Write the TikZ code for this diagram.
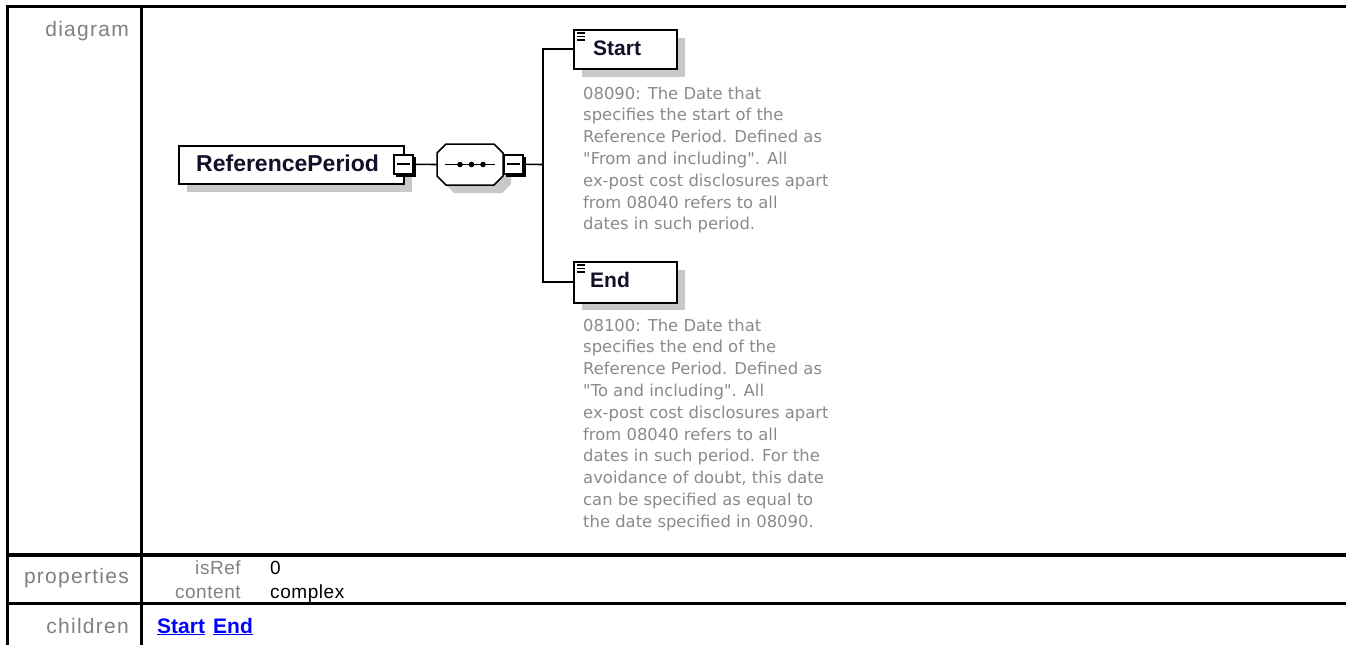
\documentclass[tikz,border=0pt]{standalone}
\usepackage{fontspec}
\setmainfont{Liberation Sans}
\newfontfamily\descfont{DejaVu Sans}
\newfontfamily\tabfont[LetterSpace=6]{Liberation Sans}
\newfontfamily\valfont[LetterSpace=3]{Liberation Sans}
\definecolor{shadowgray}{RGB}{200,200,200}
\definecolor{labelgray}{RGB}{128,128,128}
\definecolor{descgray}{RGB}{138,138,138}
\definecolor{linkblue}{RGB}{0,0,255}
\definecolor{titleink}{RGB}{16,16,40}
\tikzset{
  rule/.style={line width=3.3, draw=black},
  lbl/.style={font={\tabfont\fontsize{21}{25}\selectfont}, text=labelgray, inner sep=0},
  propname/.style={font={\valfont\fontsize{19}{23}\selectfont}, text=labelgray, inner sep=0},
  propval/.style={font={\valfont\fontsize{19}{23}\selectfont}, text=black, inner sep=0},
  childlink/.style={font={\bfseries\fontsize{21}{25}\selectfont}, text=linkblue, inner sep=0},
  elbox/.style={draw=black, line width=1.5, fill=white, inner sep=0, anchor=north west},
  minusbox/.style={draw=black, line width=1.6, fill=white, inner sep=0, minimum width=19, minimum height=19, anchor=north west},
  conn/.style={line width=1.6, draw=black},
  eltitle/.style={font={\bfseries\fontsize{21}{25}\selectfont}, text=titleink, inner sep=0},
  desc/.style={font={\descfont\fontsize{16.4}{21.8}\selectfont}, text=descgray, align=left, inner sep=0, anchor=north west}
}
\begin{document}
\begin{tikzpicture}[x=1pt,y=-1pt]
\useasboundingbox (0,0) rectangle (1346,645);

% table rules
\draw[rule] (6,6.7) -- (1346,6.7);
\draw[rule] (7.5,5.2) -- (7.5,645);
\draw[rule] (141.7,6.7) -- (141.7,645);
\draw[rule] (6,555) -- (1346,555);
\draw[rule] (6,603.3) -- (1346,603.3);

% row labels
\node[lbl, anchor=base east] (lblDiagram) at (129,36.5) {diagram};
\node[lbl, anchor=base east] (lblProps) at (129,583) {properties};
\node[lbl, anchor=base east] (lblChildren) at (129,633) {children};

% properties
\node[propname, anchor=base east] (pIsRef) at (241,574) {isRef};
\node[propname, anchor=base east] (pContent) at (241,598) {content};
\node[propval, anchor=base west] (vIsRef) at (270,574) {0};
\node[propval, anchor=base west] (vContent) at (270,598) {complex};

% children links
\node[childlink, anchor=base west] (cStart) at (157,633) {\underline{Start}};
\node[childlink, anchor=base west] (cEnd) at (213,633) {\underline{End}};

% ReferencePeriod element
\fill[shadowgray] (187,154) rectangle (412,192);
\node[elbox, minimum width=225, minimum height=38] (rp) at (178,145) {};
\node[eltitle, font={\bfseries\fontsize{23}{27}\selectfont}, anchor=base west] (rpText) at (196,171.5) {ReferencePeriod};
\fill[black] (396,157) rectangle (415.5,176.5);
\node[minusbox] (m1) at (393,154) {};
\draw[line width=1.8] ([xshift=3.5]m1.west) -- ([xshift=-3.5]m1.east);

% sequence compositor
\coordinate (seqL) at (437,164.5);
\coordinate (seqR) at (503,164.5);
\fill[shadowgray] (454,152) -- (502,152) -- (511,161) -- (511,184) -- (502,193) -- (454,193) -- (445,184) -- (445,161) -- cycle;
\draw[line width=1.5, fill=white] (446,144) -- (494,144) -- (503,153) -- (503,176) -- (494,185) -- (446,185) -- (437,176) -- (437,153) -- cycle;
\draw[line width=1.6] (445,164.5) -- (495,164.5);
\foreach \dx in {460,471.5,483} \fill (\dx,164.5) circle (2.8);
\fill[black] (506,157) rectangle (525.5,176.5);
\node[minusbox] (m2) at (503,154) {};
\draw[line width=1.8] ([xshift=3.5]m2.west) -- ([xshift=-3.5]m2.east);

\draw[conn] (m1.east) -- (seqL);
\coordinate (junc) at (543,164.5);
\draw[conn] (m2.east) -- (junc);

% Start element
\fill[shadowgray] (582,38) rectangle (685,77);
\node[elbox, minimum width=103, minimum height=39] (start) at (573,29) {};
\foreach \dy in {4,7.5,11} \draw[line width=1.3] (577,29+\dy) -- (585,29+\dy);
\node[eltitle, anchor=base west] (startText) at (593,55.7) {Start};

% End element
\fill[shadowgray] (582,270) rectangle (685,310);
\node[elbox, minimum width=103, minimum height=41] (end) at (573,261) {};
\foreach \dy in {4,7.5,11} \draw[line width=1.3] (577,261+\dy) -- (585,261+\dy);
\node[eltitle, anchor=base west] (endText) at (590,287.3) {End};

\draw[conn] (start.west) -| (junc) |- (end.west);

% annotations
\node[desc] (startDesc) at (583,86.5) {08090: The Date that\\specifies the start of the\\Reference Period. Defined as\\"From and including". All\\ex-post cost disclosures apart\\from 08040 refers to all\\dates in such period.};
\node[desc] (endDesc) at (583,318.5) {08100: The Date that\\specifies the end of the\\Reference Period. Defined as\\"To and including". All\\ex-post cost disclosures apart\\from 08040 refers to all\\dates in such period. For the\\avoidance of doubt, this date\\can be specified as equal to\\the date specified in 08090.};
\end{tikzpicture}
\end{document}
